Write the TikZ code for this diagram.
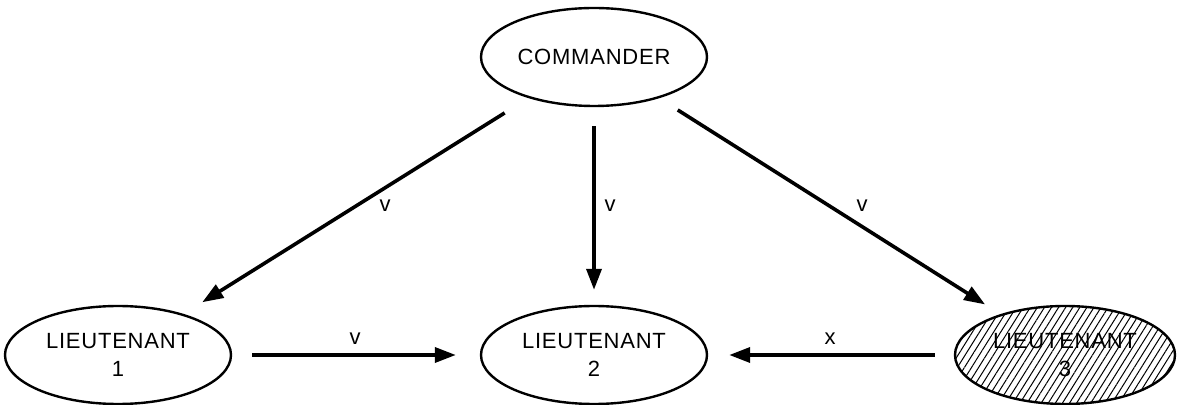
\documentclass[tikz,border=0pt]{standalone}
\usepackage{fontspec}
\setmainfont{Liberation Sans}[LetterSpace=3.5]
\usetikzlibrary{arrows.meta,shapes.geometric,patterns.meta}
\begin{document}
\begin{tikzpicture}[x=0.5pt,y=-0.5pt,
  agent/.style={draw,line width=1.2pt,ellipse,minimum width=113pt,minimum height=49pt,inner sep=0pt,font=\fontsize{11}{14}\selectfont,align=center},
  msg/.style={line width=1.8pt,-{Triangle[length=10.5pt,width=7.5pt]}},
  lbl/.style={font=\fontsize{11}{13}\selectfont}]
\useasboundingbox (0,0) rectangle (1177,405);
\node[agent] (cmd) at (594,57) {COMMANDER};
\node[agent] (l1) at (118,355) {\raisebox{-2.5pt}{LIEUTENANT}\\\raisebox{-2.5pt}{1}};
\node[agent] (l2) at (594,355) {\raisebox{-2.5pt}{LIEUTENANT}\\\raisebox{-2.5pt}{2}};
\node[agent,minimum width=110pt,pattern={Lines[angle=58,distance=3pt,line width=0.5pt]}] (l3) at (1065,355) {\raisebox{-2.5pt}{LIEUTENANT}\\\raisebox{-2.5pt}{3}};
\draw[msg,shorten <=14pt,shorten >=11pt] (cmd) -- (l1);
\draw[msg,shorten <=9.5pt,shorten >=7.5pt] (cmd) -- (l2);
\draw[msg,shorten <=11pt,shorten >=9.5pt] (cmd) -- (l3);
\draw[msg,shorten <=10pt,shorten >=12pt] (l1) -- (l2);
\draw[msg,shorten <=10pt,shorten >=10.5pt] (l3) -- (l2);
\node[lbl] (lv1) at (385,206) {v};
\node[lbl] (lv2) at (610,206) {v};
\node[lbl] (lv3) at (862,206) {v};
\node[lbl] (lv4) at (355,339) {v};
\node[lbl] (lx) at (830,339) {x};
\end{tikzpicture}
\end{document}
